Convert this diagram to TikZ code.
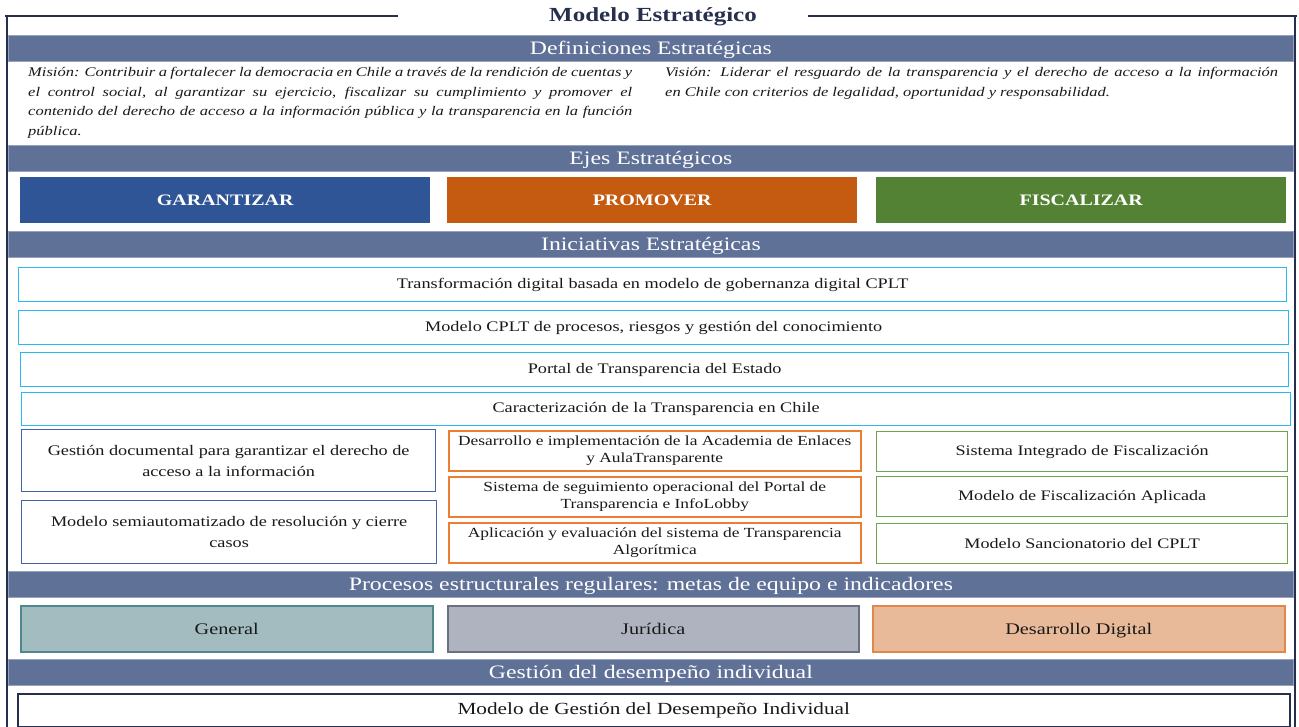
\documentclass[tikz,border=0pt]{standalone}
\usepackage{fontspec}
\setmainfont[FakeStretch=1.25]{Liberation Serif}
\definecolor{frame}{RGB}{38,48,78}
\definecolor{bandc}{RGB}{96,113,152}
\definecolor{bandline}{RGB}{150,162,190}
\definecolor{garc}{RGB}{47,85,151}
\definecolor{proc}{RGB}{197,90,17}
\definecolor{fisc}{RGB}{84,130,53}
\definecolor{cyanb}{RGB}{40,185,240}
\definecolor{blueb}{RGB}{68,100,170}
\definecolor{orab}{RGB}{237,125,49}
\definecolor{greb}{RGB}{112,165,80}
\definecolor{genf}{RGB}{162,188,192}
\definecolor{gend}{RGB}{80,135,140}
\definecolor{jurf}{RGB}{174,179,191}
\definecolor{jurd}{RGB}{105,112,128}
\definecolor{desf}{RGB}{233,186,154}
\definecolor{desd}{RGB}{224,136,74}
\definecolor{txt}{RGB}{25,25,25}
\begin{document}
\begin{tikzpicture}[x=1pt,y=-1pt,
  bx/.style={anchor=north west, inner sep=0pt, align=center, text=txt},
  band/.style={bx, fill=bandc, draw=bandline, line width=0.8pt, text=white,
    minimum width=1285pt, minimum height=26pt, text height=13pt, text depth=0pt,
    font=\fontsize{19}{21}\selectfont},
  eje/.style={bx, minimum width=410pt, minimum height=46pt, text=white,
    text height=11pt, text depth=0pt, font=\bfseries\fontsize{16}{19}\selectfont},
  ini/.style={bx, draw=cyanb, line width=1.3pt, minimum height=34pt,
    font=\fontsize{14.6}{17}\selectfont},
  gbox/.style={bx, draw=blueb, line width=1.3pt, minimum width=414pt, minimum height=62pt,
    font=\fontsize{14.6}{21}\selectfont},
  obox/.style={bx, draw=orab, line width=1.5pt, minimum width=412pt, minimum height=40pt,
    font=\fontsize{13.9}{16.5}\selectfont},
  fbox/.style={bx, draw=greb, line width=1.3pt, minimum width=411pt, minimum height=40pt,
    font=\fontsize{14.5}{17}\selectfont},
  proc/.style={bx, line width=1.5pt, minimum width=412pt, minimum height=46pt,
    text height=11pt, text depth=0pt, font=\fontsize{16.2}{18}\selectfont},
]
\useasboundingbox (0,0) rectangle (1299,727);
\fill[white] (0,0) rectangle (1299,727);

% title and frame
\node[font=\bfseries\fontsize{20}{24}\selectfont, text=frame] (title) at (653,17) {Modelo Estratégico};
\draw[frame, line width=2.6pt] (398,16) -- (5,16);
\draw[frame, line width=2.6pt] (7,16) -- (7,727);
\draw[frame, line width=2.6pt] (808,16) -- (1297,16);
\draw[frame, line width=2.6pt] (1295,16) -- (1295,727);

% Definiciones
\node[band] (b1) at (8,35) {Definiciones Estratégicas};
\node[bx, anchor=north west, text width=604pt, align=justify,
  font=\itshape\fontsize{13.2}{19.6}\selectfont] (mision) at (28,67)
  {Misión: Contribuir a fortalecer la democracia en Chile a través de la rendición de cuentas y\linebreak
   el control social, al garantizar su ejercicio, fiscalizar su cumplimiento y promover el\linebreak
   contenido del derecho de acceso a la información pública y la transparencia en la función\linebreak
   pública.};
\node[bx, anchor=north west, text width=613pt, align=justify,
  font=\itshape\fontsize{13.2}{19.6}\selectfont] (vision) at (665,67)
  {Visión: Liderar el resguardo de la transparencia y el derecho de acceso a la información\linebreak
   en Chile con criterios de legalidad, oportunidad y responsabilidad.};

% Ejes
\node[band] (b2) at (8,145) {Ejes Estratégicos};
\node[eje, fill=garc] (gar) at (20,177) {GARANTIZAR};
\node[eje, fill=proc] (pro) at (447,177) {PROMOVER};
\node[eje, fill=fisc] (fis) at (876,177) {FISCALIZAR};

% Iniciativas
\node[band] (b3) at (8,231) {Iniciativas Estratégicas};
\node[ini, minimum width=1268pt] (i1) at (18,267) {Transformación digital basada en modelo de gobernanza digital CPLT};
\node[ini, minimum width=1270pt] (i2) at (18,310) {Modelo CPLT de procesos, riesgos y gestión del conocimiento};
\node[ini, minimum width=1268pt] (i3) at (20,352) {Portal de Transparencia del Estado};
\node[ini, minimum width=1269pt, minimum height=33pt] (i4) at (21,392) {Caracterización de la Transparencia en Chile};

\node[gbox] (g1) at (21,429) {Gestión documental para garantizar el derecho de\\acceso a la información};
\node[gbox, minimum width=415pt, minimum height=63pt] (g2) at (21,500) {Modelo semiautomatizado de resolución y cierre\\casos};

\node[obox] (p1) at (448,430) {Desarrollo e implementación de la Academia de Enlaces\\y AulaTransparente};
\node[obox] (p2) at (448,476) {Sistema de seguimiento operacional del Portal de\\Transparencia e InfoLobby};
\node[obox] (p3) at (448,522) {Aplicación y evaluación del sistema de Transparencia\\Algorítmica};

\node[fbox] (f1) at (876,431) {Sistema Integrado de Fiscalización};
\node[fbox] (f2) at (876,476) {Modelo de Fiscalización Aplicada};
\node[fbox] (f3) at (876,523) {Modelo Sancionatorio del CPLT};

% Procesos
\node[band] (b4) at (8,571) {Procesos estructurales regulares: metas de equipo e indicadores};
\node[proc, fill=genf, draw=gend] (gen) at (20,605) {General};
\node[proc, fill=jurf, draw=jurd, minimum width=411pt] (jur) at (447,605) {Jurídica};
\node[proc, fill=desf, draw=desd] (des) at (872,605) {Desarrollo Digital};

% Gestion desempeño
\node[band] (b5) at (8,659) {Gestión del desempeño individual};
\node[bx, draw=frame, line width=1.5pt, minimum width=1272pt, minimum height=33pt,
  font=\fontsize{17}{20}\selectfont] (mod) at (17,693) {Modelo de Gestión del Desempeño Individual};
\end{tikzpicture}
\end{document}
